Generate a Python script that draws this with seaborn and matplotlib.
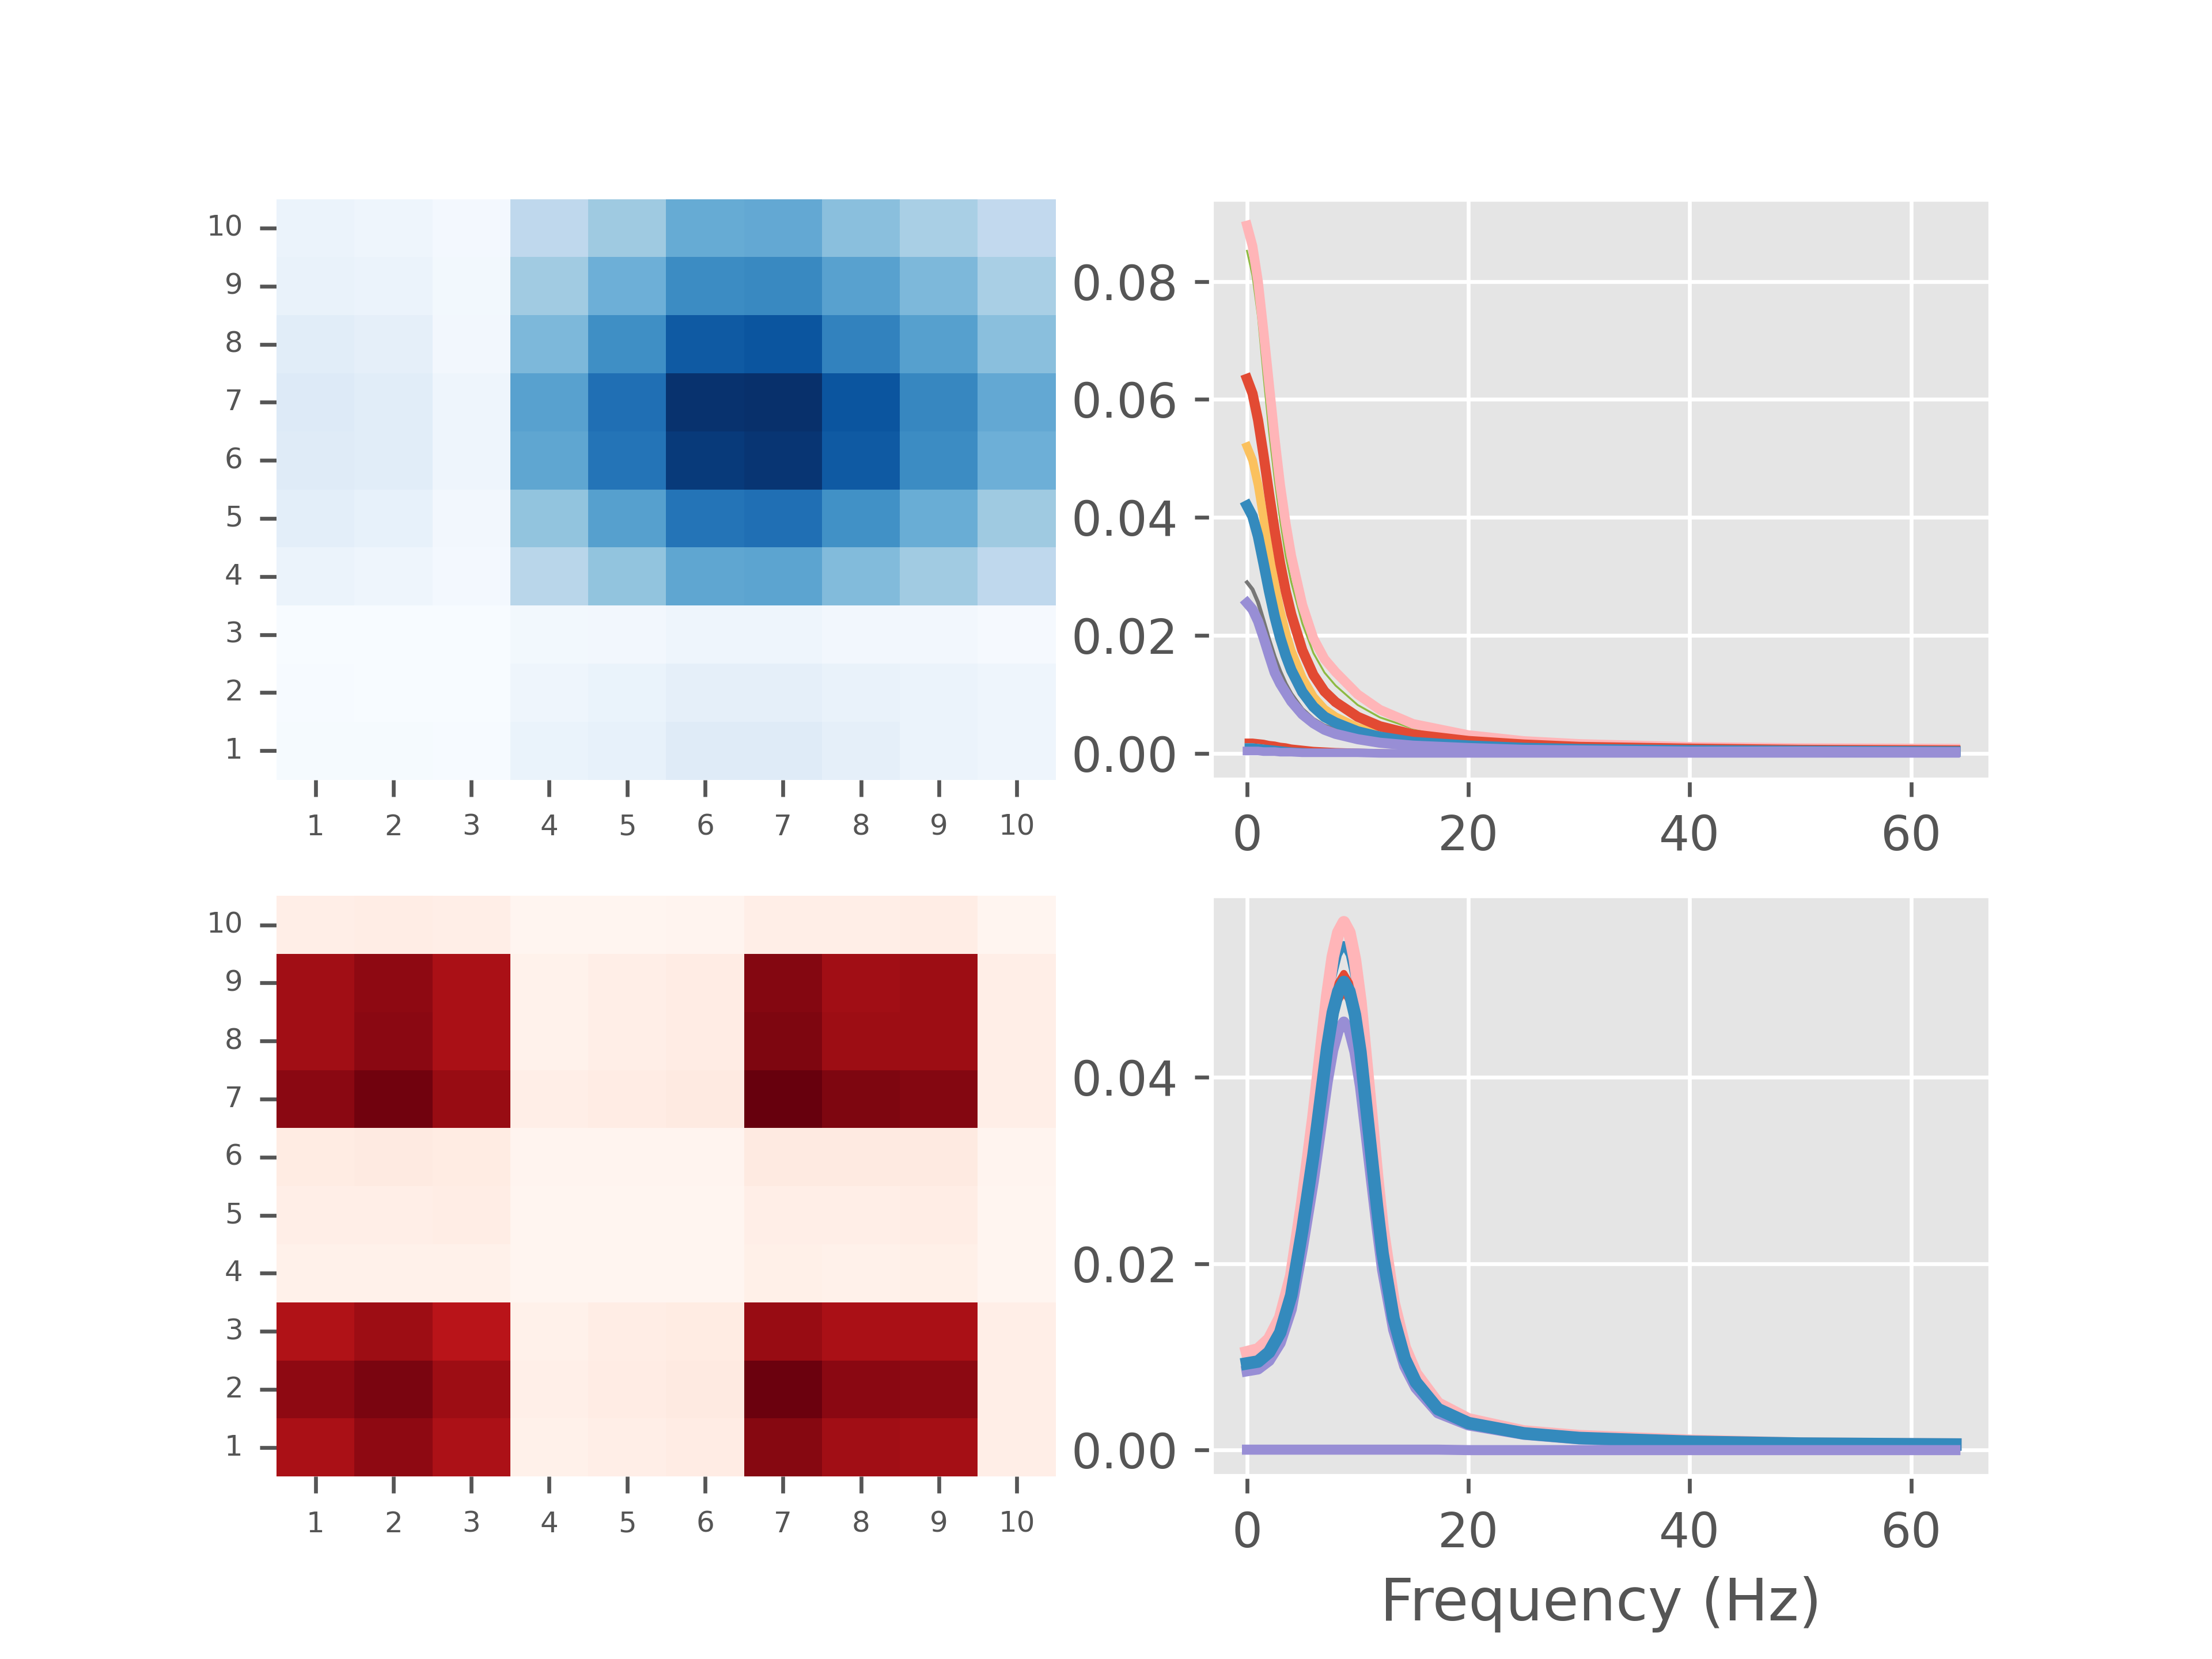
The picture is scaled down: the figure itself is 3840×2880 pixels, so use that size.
import numpy as np
import pandas as pd
import matplotlib
matplotlib.use('Agg')
import matplotlib.pyplot as plt
from matplotlib.ticker import MultipleLocator
import seaborn as sns

plt.style.use('ggplot')

labels = [str(i) for i in range(1, 11)]
row_labels = labels[::-1]   # heatmap rows listed top to bottom: 10 ... 1

# upper heatmap (Blues), rows 10 -> 1
blue_rows = [
    [0.07, 0.06, 0.03, 0.28, 0.38, 0.52, 0.53, 0.43, 0.35, 0.27],
    [0.08, 0.07, 0.035, 0.37, 0.50, 0.65, 0.66, 0.56, 0.46, 0.35],
    [0.12, 0.10, 0.04, 0.46, 0.64, 0.84, 0.86, 0.69, 0.57, 0.43],
    [0.14, 0.12, 0.06, 0.56, 0.76, 0.99, 1.00, 0.86, 0.67, 0.53],
    [0.13, 0.12, 0.06, 0.54, 0.74, 0.96, 0.98, 0.84, 0.65, 0.50],
    [0.11, 0.09, 0.04, 0.41, 0.57, 0.74, 0.76, 0.63, 0.51, 0.38],
    [0.07, 0.06, 0.03, 0.30, 0.41, 0.54, 0.55, 0.45, 0.37, 0.28],
    [0.01, 0.01, 0.01, 0.035, 0.04, 0.055, 0.055, 0.04, 0.04, 0.025],
    [0.015, 0.01, 0.01, 0.055, 0.075, 0.10, 0.10, 0.08, 0.07, 0.06],
    [0.02, 0.02, 0.015, 0.075, 0.09, 0.13, 0.13, 0.10, 0.07, 0.06],
]

# lower heatmap (Reds), rows 10 -> 1
red_rows = [
    [0.05, 0.055, 0.05, 0.01, 0.01, 0.012, 0.05, 0.05, 0.055, 0.01],
    [0.88, 0.92, 0.86, 0.03, 0.05, 0.06, 0.94, 0.88, 0.89, 0.05],
    [0.88, 0.93, 0.86, 0.03, 0.05, 0.06, 0.95, 0.89, 0.89, 0.05],
    [0.93, 0.98, 0.90, 0.05, 0.06, 0.07, 1.00, 0.95, 0.94, 0.05],
    [0.065, 0.07, 0.065, 0.012, 0.012, 0.012, 0.07, 0.07, 0.07, 0.012],
    [0.05, 0.05, 0.055, 0.01, 0.01, 0.01, 0.05, 0.05, 0.055, 0.01],
    [0.035, 0.035, 0.035, 0.008, 0.008, 0.008, 0.04, 0.035, 0.04, 0.008],
    [0.84, 0.89, 0.81, 0.035, 0.055, 0.065, 0.90, 0.86, 0.86, 0.05],
    [0.92, 0.96, 0.89, 0.045, 0.06, 0.07, 0.99, 0.93, 0.925, 0.05],
    [0.86, 0.92, 0.85, 0.035, 0.05, 0.06, 0.935, 0.88, 0.875, 0.05],
]

# spectra, upper panel (one list per channel 1..10)
freq_top = [0, 0.5, 1, 1.5, 2, 2.5, 3, 3.5, 4, 5, 6, 7, 8, 10, 12, 15, 20, 25, 30, 40, 50, 64]
top_ch1 = [0.0021, 0.0021, 0.0020, 0.0019, 0.0017, 0.0016, 0.0014, 0.0013, 0.0011, 0.0009, 0.0007,
           0.0006, 0.0005, 0.0004, 0.0003, 0.0002, 0.0002, 0.0001, 0.0001, 0.0001, 0.0001, 0.0001]
top_ch2 = [0.0013, 0.0013, 0.0012, 0.0011, 0.0010, 0.0009, 0.0008, 0.0007, 0.0006, 0.0005, 0.0004,
           0.0003, 0.0003, 0.0002, 0.0002, 0.0001, 0.0001, 0.0001, 0.0001, 0.0, 0.0, 0.0]
top_ch3 = [0.0004, 0.0004, 0.0004, 0.0003, 0.0003, 0.0003, 0.0002, 0.0002, 0.0002, 0.0001, 0.0001,
           0.0001, 0.0001, 0.0001, 0.0, 0.0, 0.0, 0.0, 0.0, 0.0, 0.0, 0.0]
top_ch4 = [0.0290, 0.0278, 0.0256, 0.0225, 0.0193, 0.0164, 0.0139, 0.0118, 0.0101, 0.0075, 0.0058,
           0.0047, 0.0040, 0.0029, 0.0022, 0.0016, 0.0011, 0.0008, 0.0006, 0.0004, 0.0003, 0.0003]
top_ch5 = [0.0520, 0.0497, 0.0455, 0.0398, 0.0340, 0.0287, 0.0242, 0.0205, 0.0174, 0.0128, 0.0096,
           0.0075, 0.0062, 0.0044, 0.0033, 0.0023, 0.0015, 0.0011, 0.0008, 0.0006, 0.0005, 0.0004]
top_ch6 = [0.0852, 0.0810, 0.0740, 0.0640, 0.0545, 0.0465, 0.0395, 0.0335, 0.0290, 0.0220, 0.0170,
           0.0137, 0.0115, 0.0082, 0.0061, 0.0042, 0.0027, 0.0019, 0.0014, 0.0010, 0.0008, 0.0007]
top_ch7 = [0.0895, 0.0860, 0.0800, 0.0715, 0.0625, 0.0535, 0.0455, 0.0390, 0.0335, 0.0252, 0.0195,
           0.0160, 0.0138, 0.0100, 0.0074, 0.0050, 0.0031, 0.0021, 0.0016, 0.0011, 0.0009, 0.0008]
top_ch8 = [0.0635, 0.0610, 0.0565, 0.0505, 0.0440, 0.0378, 0.0322, 0.0275, 0.0236, 0.0175, 0.0133,
           0.0105, 0.0087, 0.0062, 0.0046, 0.0032, 0.0021, 0.0015, 0.0011, 0.0008, 0.0006, 0.0005]
top_ch9 = [0.0420, 0.0402, 0.0368, 0.0322, 0.0275, 0.0232, 0.0196, 0.0166, 0.0141, 0.0104, 0.0079,
           0.0062, 0.0052, 0.0037, 0.0028, 0.0019, 0.0013, 0.0009, 0.0007, 0.0005, 0.0004, 0.0003]
top_ch10 = [0.0255, 0.0244, 0.0224, 0.0196, 0.0166, 0.0137, 0.0118, 0.0103, 0.0088, 0.0066, 0.0051,
            0.0040, 0.0033, 0.0024, 0.0018, 0.0013, 0.0009, 0.0006, 0.0005, 0.0003, 0.0003, 0.0002]

# spectra, lower panel
freq_bot = [0, 1, 2, 3, 4, 5, 6, 7.25, 7.75, 8.25, 8.75, 9.25, 9.75, 10.25, 10.75, 11.25, 11.75,
            12.25, 13.25, 14.25, 15.25, 17.25, 20, 25, 30, 40, 50, 64]
bot_ch1 = [0.0091, 0.0093, 0.0103, 0.0123, 0.0162, 0.0231, 0.0310, 0.0423, 0.0460, 0.0482, 0.0492,
           0.0482, 0.0458, 0.0418, 0.0364, 0.0310, 0.0256, 0.0207, 0.0138, 0.0096, 0.0071, 0.0043,
           0.0029, 0.0018, 0.0013, 0.0008, 0.0006, 0.0005]
bot_ch2 = [0.0100, 0.0103, 0.0114, 0.0136, 0.0179, 0.0255, 0.0341, 0.0466, 0.0507, 0.0531, 0.0542,
           0.0531, 0.0504, 0.0461, 0.0401, 0.0341, 0.0282, 0.0228, 0.0152, 0.0106, 0.0079, 0.0048,
           0.0031, 0.0020, 0.0014, 0.0009, 0.0007, 0.0006]
bot_ch3 = [0.0085, 0.0087, 0.0096, 0.0115, 0.0151, 0.0216, 0.0289, 0.0395, 0.0429, 0.0450, 0.0459,
           0.0450, 0.0427, 0.0390, 0.0340, 0.0289, 0.0239, 0.0193, 0.0129, 0.0090, 0.0067, 0.0040,
           0.0027, 0.0017, 0.0012, 0.0008, 0.0006, 0.0005]
bot_ch4 = [0.0001, 0.0001, 0.0001, 0.0001, 0.0001, 0.0001, 0.0002, 0.0002, 0.0002, 0.0002, 0.0002,
           0.0002, 0.0002, 0.0002, 0.0002, 0.0002, 0.0001, 0.0001, 0.0001, 0.0001, 0.0001, 0.0,
           0.0, 0.0, 0.0, 0.0, 0.0, 0.0]
bot_ch5 = [0.0001, 0.0001, 0.0001, 0.0001, 0.0002, 0.0002, 0.0002, 0.0003, 0.0003, 0.0003, 0.0003,
           0.0003, 0.0003, 0.0003, 0.0002, 0.0002, 0.0002, 0.0002, 0.0001, 0.0001, 0.0001, 0.0001,
           0.0, 0.0, 0.0, 0.0, 0.0, 0.0]
bot_ch6 = [0.0001, 0.0001, 0.0001, 0.0001, 0.0002, 0.0002, 0.0003, 0.0004, 0.0004, 0.0004, 0.0004,
           0.0004, 0.0004, 0.0004, 0.0003, 0.0003, 0.0003, 0.0002, 0.0002, 0.0001, 0.0001, 0.0001,
           0.0, 0.0, 0.0, 0.0, 0.0, 0.0]
bot_ch7 = [0.0105, 0.0108, 0.0119, 0.0142, 0.0187, 0.0266, 0.0357, 0.0487, 0.0529, 0.0555, 0.0566,
           0.0555, 0.0526, 0.0481, 0.0419, 0.0357, 0.0294, 0.0238, 0.0158, 0.0110, 0.0082, 0.0050,
           0.0033, 0.0020, 0.0015, 0.0010, 0.0007, 0.0006]
bot_ch8 = [0.0095, 0.0097, 0.0107, 0.0128, 0.0169, 0.0240, 0.0322, 0.0439, 0.0478, 0.0501, 0.0511,
           0.0501, 0.0475, 0.0434, 0.0378, 0.0322, 0.0266, 0.0215, 0.0143, 0.0100, 0.0074, 0.0045,
           0.0030, 0.0018, 0.0013, 0.0009, 0.0007, 0.0006]
bot_ch9 = [0.0093, 0.0095, 0.0105, 0.0126, 0.0166, 0.0236, 0.0316, 0.0432, 0.0469, 0.0492, 0.0502,
           0.0492, 0.0467, 0.0427, 0.0371, 0.0316, 0.0261, 0.0211, 0.0141, 0.0098, 0.0073, 0.0044,
           0.0029, 0.0018, 0.0013, 0.0009, 0.0007, 0.0006]
bot_ch10 = [0.00005, 0.00005, 0.00005, 0.00005, 0.00005, 0.00005, 0.00005, 0.00005, 0.00005, 0.00005,
            0.00005, 0.00005, 0.00005, 0.00005, 0.00005, 0.00005, 0.00005, 0.00005, 0.00005, 0.00005,
            0.00005, 0.00005, 0.0, 0.0, 0.0, 0.0, 0.0, 0.0]

top_lines = [top_ch1, top_ch2, top_ch3, top_ch4, top_ch5, top_ch6, top_ch7, top_ch8, top_ch9, top_ch10]
bot_lines = [bot_ch1, bot_ch2, bot_ch3, bot_ch4, bot_ch5, bot_ch6, bot_ch7, bot_ch8, bot_ch9, bot_ch10]
top_widths = [1.0, 1.0, 1.8, 0.8, 1.8, 0.4, 2.0, 2.1, 2.2, 2.1]
bot_widths = [1.5, 1.5, 2.3, 0.8, 1.0, 0.4, 2.6, 1.5, 2.6, 2.1]

colors = plt.rcParams['axes.prop_cycle'].by_key()['color']

fig = plt.figure(figsize=(6.4, 4.8), dpi=600)
axes = fig.subplots(nrows=2, ncols=2)

# %%
# heatmaps on the left
for ax, rows, cmap in [(axes[0, 0], blue_rows, 'Blues'), (axes[1, 0], red_rows, 'Reds')]:
    df = pd.DataFrame(rows, index=row_labels, columns=labels)
    sns.heatmap(df, cmap=cmap, cbar=False, ax=ax)
    ax.set_xticklabels(ax.get_xticklabels(), rotation=0)
    ax.set_yticklabels(ax.get_yticklabels(), rotation=0)
    ax.tick_params(labelsize=6, colors='#555555')

# %%
# spectra on the right
for ax, freqs, lines, widths in [(axes[0, 1], freq_top, top_lines, top_widths),
                                 (axes[1, 1], freq_bot, bot_lines, bot_widths)]:
    for i, vals in enumerate(lines):
        sns.lineplot(x=freqs, y=vals, ax=ax, color=colors[i % len(colors)], linewidth=widths[i])
    ax.xaxis.set_major_locator(MultipleLocator(20))
    ax.yaxis.set_major_locator(MultipleLocator(0.02))
    ax.yaxis.set_major_formatter(plt.FormatStrFormatter('%.2f'))
    ax.tick_params(labelsize=10)

axes[1, 1].set_xlabel('Frequency (Hz)', fontsize=12.2)

plt.savefig('out.png', dpi=600)
